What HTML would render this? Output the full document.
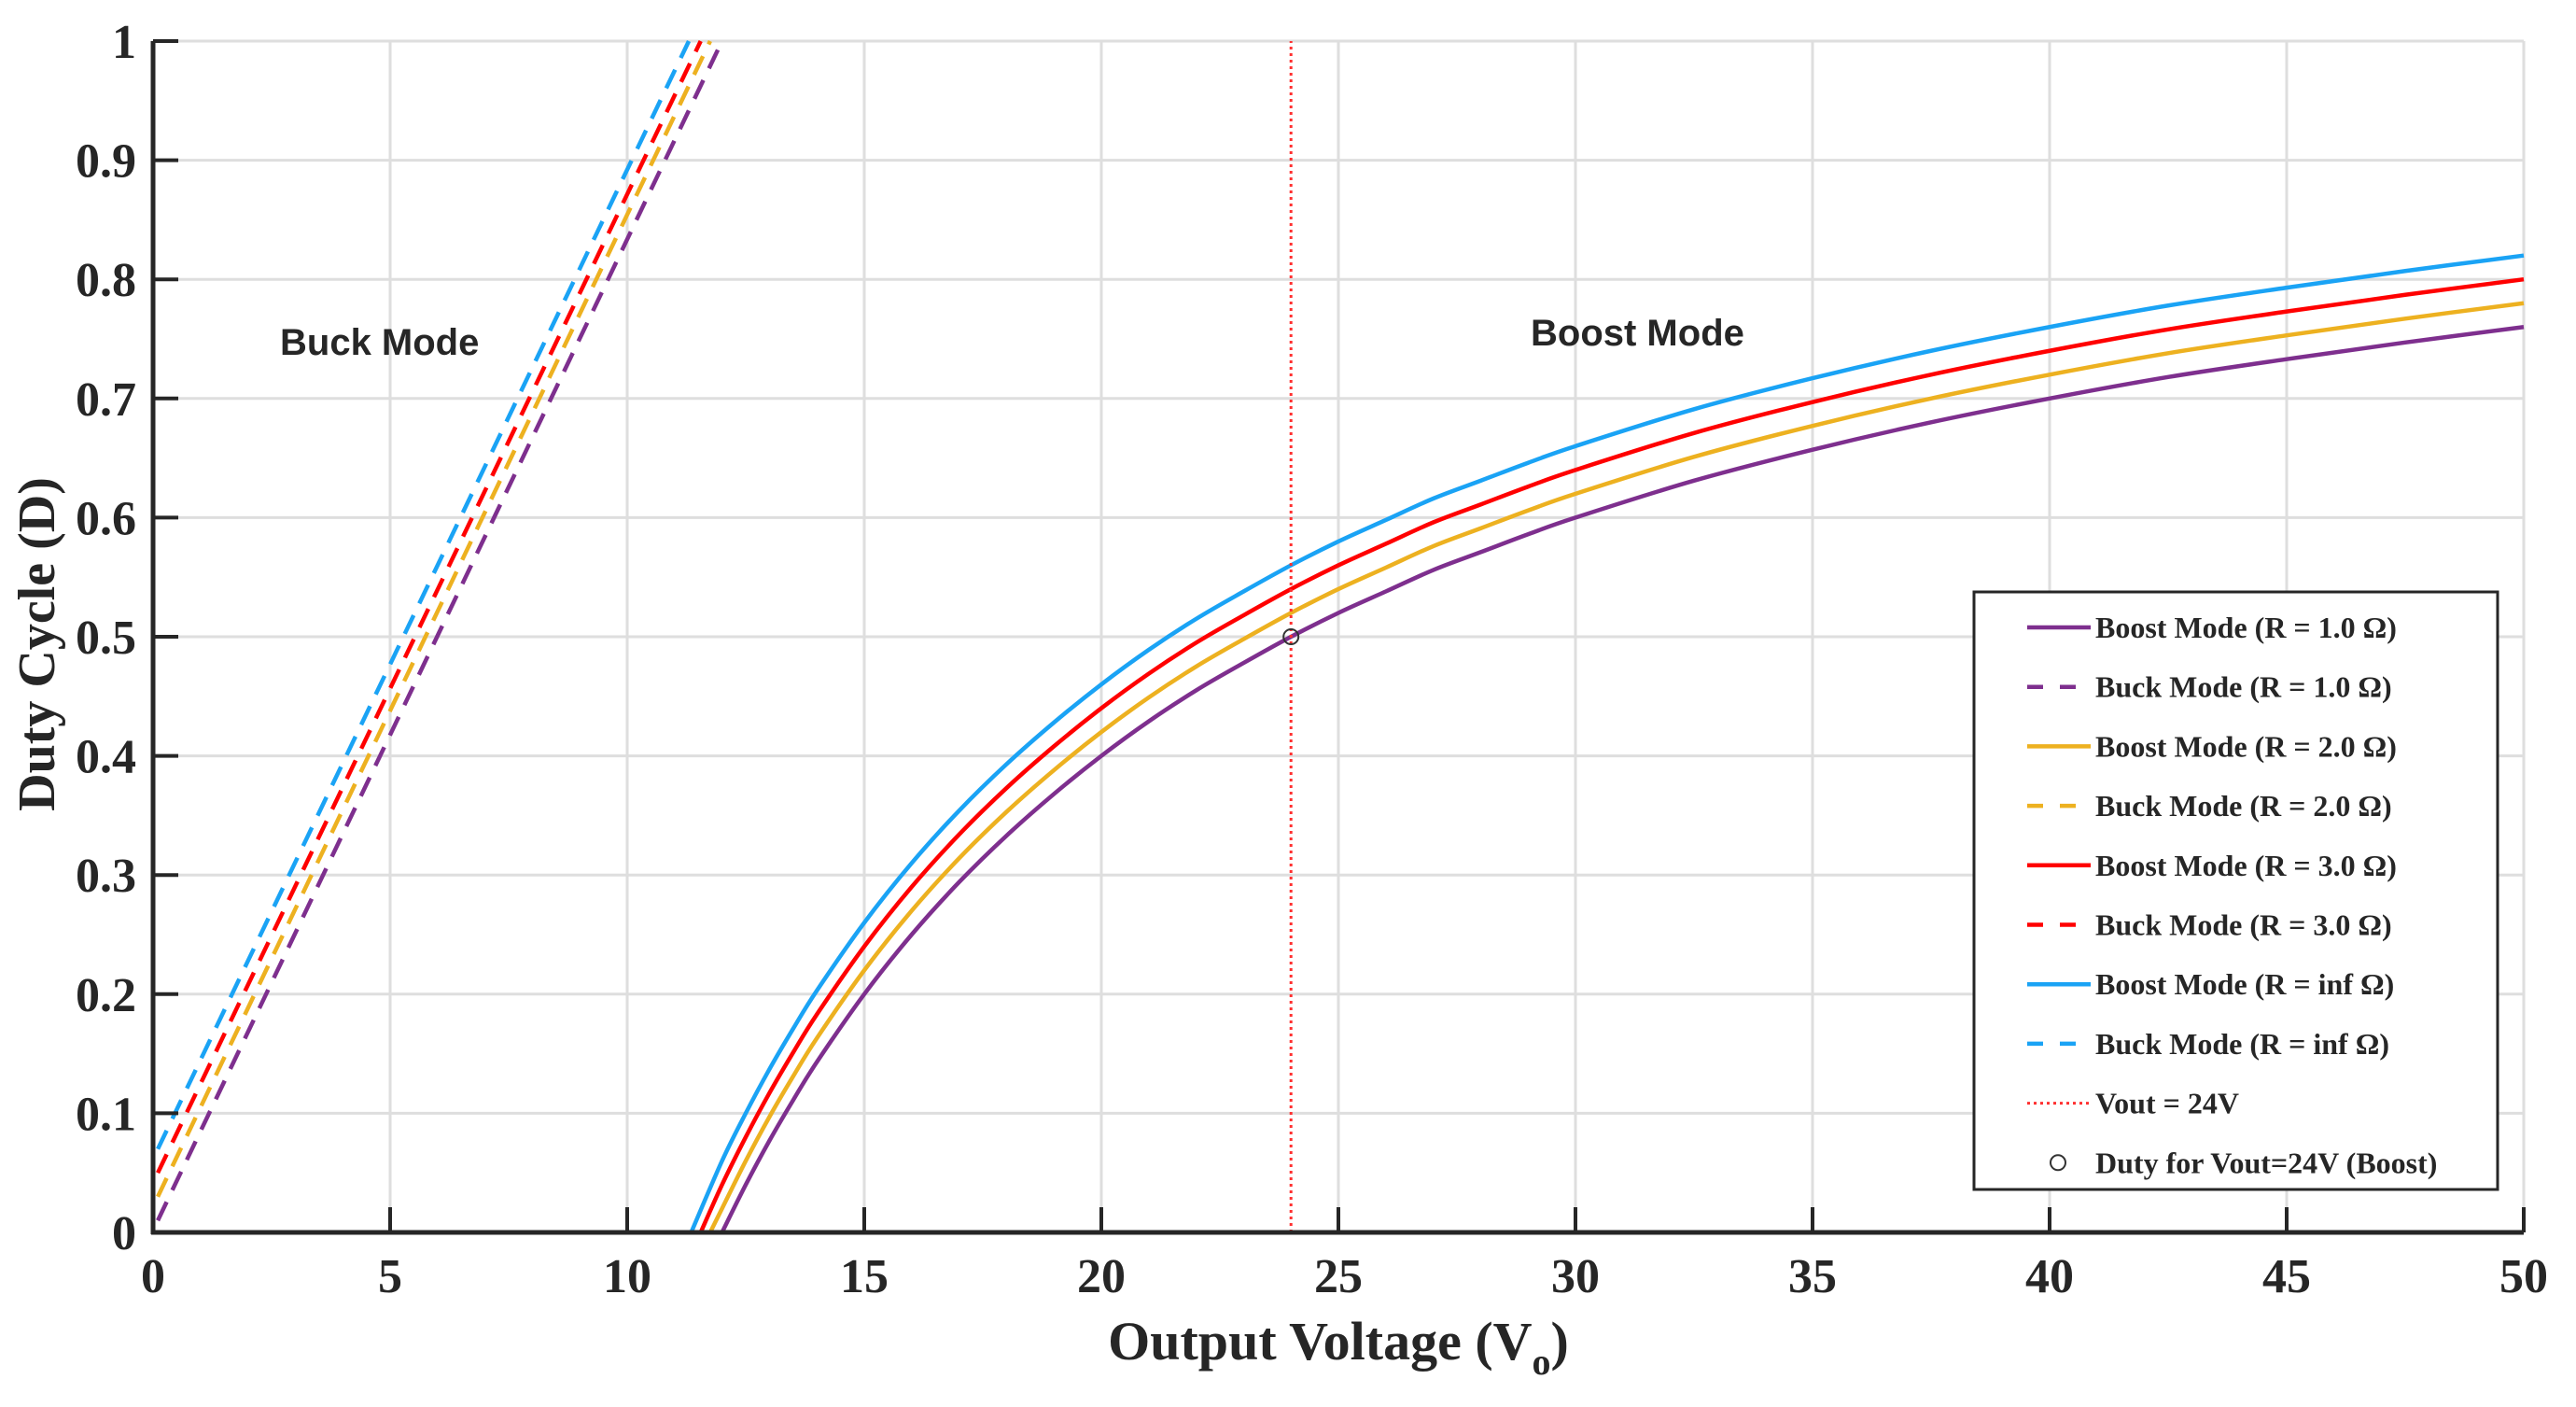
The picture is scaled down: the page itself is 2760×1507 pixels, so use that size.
<!DOCTYPE html>
<html><head><meta charset="utf-8"><style>
html,body{margin:0;padding:0;background:#fff;}
svg{display:block;}
text{font-family:"Liberation Serif",serif;font-weight:bold;fill:#262626;}
</style></head><body>
<svg id="chart" width="2760" height="1507" viewBox="0 0 2760 1507" xmlns="http://www.w3.org/2000/svg">
<g id="grid"></g>
<g id="series"></g>
<g id="axes"></g>
<text x="300" y="380" style="font-family:'Liberation Sans',sans-serif;font-size:40px">Buck Mode</text>
<text x="1640" y="370" style="font-family:'Liberation Sans',sans-serif;font-size:40px">Boost Mode</text>
<text x="1434" y="1456" text-anchor="middle" style="font-size:58px">Output Voltage (V<tspan dy="16" font-size="40">o</tspan><tspan dy="-16">)</tspan></text>
<text transform="translate(58,690) rotate(-90)" text-anchor="middle" style="font-size:56px">Duty Cycle (D)</text>
<g id="legend"></g>
</svg>
<script>
const xTicks = [0,5,10,15,20,25,30,35,40,45,50];
const yTicks = [0,0.1,0.2,0.3,0.4,0.5,0.6,0.7,0.8,0.9,1];
const yTickLabels = ["0","0.1","0.2","0.3","0.4","0.5","0.6","0.7","0.8","0.9","1"];

const boostX   = [12,12.5,13,13.5,14,15,16,17,18,19,20,21,22,23,24,25,26,27,28,29,30,32.5,35,37.5,40,42.5,45,47.5,50];
const boostR1  = [0,0.04,0.077,0.111,0.143,0.2,0.25,0.294,0.333,0.368,0.4,0.429,0.455,0.478,0.5,0.52,0.538,0.556,0.571,0.586,0.6,0.631,0.657,0.68,0.7,0.718,0.733,0.747,0.76];
const boostR2  = [0.02,0.06,0.097,0.131,0.163,0.22,0.27,0.314,0.353,0.388,0.42,0.449,0.475,0.498,0.52,0.54,0.558,0.576,0.591,0.606,0.62,0.651,0.677,0.7,0.72,0.738,0.753,0.767,0.78];
const boostR3  = [0.04,0.08,0.117,0.151,0.183,0.24,0.29,0.334,0.373,0.408,0.44,0.469,0.495,0.518,0.54,0.56,0.578,0.596,0.611,0.626,0.64,0.671,0.697,0.72,0.74,0.758,0.773,0.787,0.80];
const boostRinf= [0.06,0.10,0.137,0.171,0.203,0.26,0.31,0.354,0.393,0.428,0.46,0.489,0.515,0.538,0.56,0.58,0.598,0.616,0.631,0.646,0.66,0.691,0.717,0.74,0.76,0.778,0.793,0.807,0.82];
const boostStartX = [12.0,11.75,11.55,11.35];

const buckStartX = 0.1;
const buckStartD = [0.01,0.03,0.05,0.07];
const buckEndX = [12.0,11.75,11.55,11.3];

const vTarget = 24;
const dTarget = 0.5;

const colors = ["#7E2F8E","#EDB120","#FF0000","#1AA3F5"];
const legendLabels = ["Boost Mode (R = 1.0 Ω)","Buck Mode (R = 1.0 Ω)","Boost Mode (R = 2.0 Ω)","Buck Mode (R = 2.0 Ω)","Boost Mode (R = 3.0 Ω)","Buck Mode (R = 3.0 Ω)","Boost Mode (R = inf Ω)","Buck Mode (R = inf Ω)","Vout = 24V","Duty for Vout=24V (Boost)"];

const X0=164, X1=2704, Y0=1320, Y1=44;
const sx = v => X0 + (v/50)*(X1-X0);
const sy = v => Y0 - v*(Y0-Y1);
const NS="http://www.w3.org/2000/svg";
function mk(tag, attrs, parent){const e=document.createElementNS(NS,tag);for(const k in attrs)e.setAttribute(k,attrs[k]);parent.appendChild(e);return e;}

const grid=document.getElementById('grid');
xTicks.forEach(t=>{
  const l=mk('line',{x1:sx(t),x2:sx(t),y1:Y1,y2:Y0,stroke:'#dedede','stroke-width':3},grid);
  
  
});
yTicks.forEach(t=>{
  const l=mk('line',{x1:X0,x2:X1,y1:sy(t),y2:sy(t),stroke:'#dedede','stroke-width':3},grid);
  
  
});

const ser=document.getElementById('series');
const boostSets=[boostR1,boostR2,boostR3,boostRinf];
const names=['r1','r2','r3','rinf'];
boostSets.forEach((arr,i)=>{
  const pts=[[boostStartX[i],0]];
  boostX.forEach((x,j)=>{ if(x>boostStartX[i]) pts.push([x,arr[j]]); });
  const P=pts.map(p=>[sx(p[0]),sy(p[1])]);
  let d='M'+P[0][0]+','+P[0][1];
  for(let k=0;k<P.length-1;k++){
    const p0=P[Math.max(k-1,0)],p1=P[k],p2=P[k+1],p3=P[Math.min(k+2,P.length-1)];
    const c1=[p1[0]+(p2[0]-p0[0])/6,p1[1]+(p2[1]-p0[1])/6];
    const c2=[p2[0]-(p3[0]-p1[0])/6,p2[1]-(p3[1]-p1[1])/6];
    d+=' C'+c1[0]+','+c1[1]+' '+c2[0]+','+c2[1]+' '+p2[0]+','+p2[1];
  }
  const p=mk('path',{d:d,fill:'none',stroke:colors[i],'stroke-width':4.5,'stroke-linejoin':'round'},ser);
  
  
});
buckStartD.forEach((d0,i)=>{
  const l=mk('line',{x1:sx(buckStartX),y1:sy(d0),x2:sx(buckEndX[i]),y2:sy(1),stroke:colors[i],'stroke-width':4.5,'stroke-dasharray':'22 14'},ser);
  
  
});
const vl=mk('line',{x1:sx(vTarget),x2:sx(vTarget),y1:sy(0),y2:sy(1),stroke:'#FF3030','stroke-width':3,'stroke-dasharray':'3 4'},ser);


const mc=mk('circle',{cx:sx(vTarget),cy:sy(dTarget),r:8,fill:'none',stroke:'#333','stroke-width':2},ser);



const ax=document.getElementById('axes');
const xa=mk('line',{x1:X0-2,x2:X1,y1:Y0,y2:Y0,stroke:'#262626','stroke-width':5},ax);


const ya=mk('line',{x1:X0,x2:X0,y1:Y1,y2:Y0+2,stroke:'#262626','stroke-width':5},ax);


xTicks.forEach(t=>{
  const l=mk('line',{x1:sx(t),x2:sx(t),y1:Y0,y2:Y0-27,stroke:'#262626','stroke-width':4},ax);
  
  
  const tx=mk('text',{x:sx(t),y:1384,'text-anchor':'middle','font-size':52},ax);
  tx.textContent=String(t);
  
  
});
yTicks.forEach((t,i)=>{
  const l=mk('line',{x1:X0,x2:X0+27,y1:sy(t),y2:sy(t),stroke:'#262626','stroke-width':4},ax);
  
  
  const tx=mk('text',{x:146,y:sy(t)+18,'text-anchor':'end','font-size':52},ax);
  tx.textContent=yTickLabels[i];
  
  
});

const lg=document.getElementById('legend');
const box=mk('rect',{x:2115,y:634,width:561,height:640,fill:'#fff',stroke:'#262626','stroke-width':3},lg);


legendLabels.forEach((lab,i)=>{
  const y=672+i*63.7;
  let s;
  if(i<8){
    const c=colors[Math.floor(i/2)];
    if(i%2===0) s=mk('line',{x1:2172,x2:2240,y1:y,y2:y,stroke:c,'stroke-width':4.5},lg);
    else s=mk('line',{x1:2172,x2:2224,y1:y,y2:y,stroke:c,'stroke-width':4.5,'stroke-dasharray':'17 18'},lg);
  } else if(i===8){
    s=mk('line',{x1:2172,x2:2238,y1:y,y2:y,stroke:'#FF3030','stroke-width':3,'stroke-dasharray':'3 4'},lg);
  } else {
    s=mk('circle',{cx:2205,cy:y,r:8,fill:'none',stroke:'#333','stroke-width':2},lg);
  }
  
  
  const t=mk('text',{x:2245,y:y+11,'font-size':32},lg);
  t.textContent=lab;
  
  
});
</script>
</body></html>
